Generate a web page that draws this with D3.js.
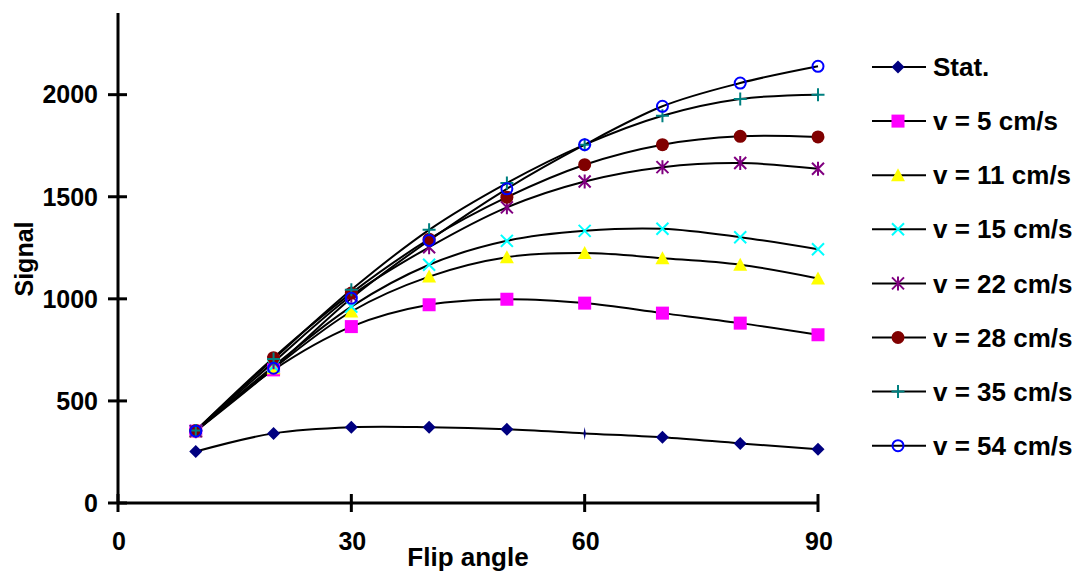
<!DOCTYPE html>
<html>
<head>
<meta charset="utf-8">
<script src="https://cdn.jsdelivr.net/npm/d3@7/dist/d3.min.js"></script>
<style>
  html, body { margin: 0; padding: 0; background: #fff; }
  svg text { font-family: "Liberation Sans", Arial, sans-serif; font-weight: bold; fill: #000; }
</style>
</head>
<body>
<svg id="chart" width="1078" height="574"></svg>
<script>
// Flip angles (degrees)
const angles = [10, 20, 30, 40, 50, 60, 70, 80, 90];

// Signal per flow velocity
const stat = [252, 341, 371, 371, 361, 341, 322, 292, 263];
const v5   = [352, 652, 864, 971, 998, 979, 930, 881, 824];
const v11  = [352, 660, 938, 1109, 1204, 1224, 1199, 1167, 1100];
const v15  = [352, 670, 962, 1167, 1284, 1333, 1343, 1302, 1243];
const v22  = [352, 690, 1015, 1253, 1448, 1575, 1645, 1665, 1637];
const v28  = [355, 712, 1028, 1292, 1498, 1657, 1755, 1796, 1793];
const v35  = [355, 705, 1044, 1338, 1567, 1755, 1897, 1979, 2000];
const v54  = [352, 660, 1003, 1286, 1539, 1755, 1943, 2057, 2139];

const seriesNames = ["Stat.", "v = 5 cm/s", "v = 11 cm/s", "v = 15 cm/s",
                     "v = 22 cm/s", "v = 28 cm/s", "v = 35 cm/s", "v = 54 cm/s"];
const seriesValues = [stat, v5, v11, v15, v22, v28, v35, v54];
const markerKinds = ["diamond", "square", "triangle", "cross", "asterisk", "dot", "plus", "ring"];
const markerColors = ["#000080", "#FF00FF", "#FFFF00", "#00FFFF", "#800080", "#800000", "#008080", "#0000FF"];

// Stat. point at this angle is drawn as a compressed diamond
const statThinAngles = [60];

const xTicks = [0, 30, 60, 90];
const yTicks = [0, 500, 1000, 1500, 2000];

const svg = d3.select("#chart");
const x = d3.scaleLinear().domain([0, 90]).range([118, 818]);
const y = d3.scaleLinear().domain([0, 2400]).range([503, 13]);

// axes
const axisW = 3;
svg.append("line").attr("x1", x(0)).attr("x2", x(0)).attr("y1", y(2400)).attr("y2", y(0))
  .attr("stroke", "#000").attr("stroke-width", axisW);
svg.append("line").attr("x1", x(0)).attr("x2", x(90)).attr("y1", y(0)).attr("y2", y(0))
  .attr("stroke", "#000").attr("stroke-width", axisW);

yTicks.forEach(t => {
  svg.append("line").attr("x1", x(0) - 10).attr("x2", x(0) + 9).attr("y1", y(t)).attr("y2", y(t))
    .attr("stroke", "#000").attr("stroke-width", axisW);
  svg.append("text").attr("x", 98).attr("y", y(t)).attr("dy", "0.35em")
    .attr("text-anchor", "end").attr("font-size", 25).text(t);
});
xTicks.forEach(t => {
  svg.append("line").attr("x1", x(t)).attr("x2", x(t)).attr("y1", y(0) - 9).attr("y2", y(0) + 9)
    .attr("stroke", "#000").attr("stroke-width", axisW);
  svg.append("text").attr("x", x(t) + 1).attr("y", 541).attr("dy", "0.35em")
    .attr("text-anchor", "middle").attr("font-size", 25).text(t);
});

svg.append("text").attr("x", 468).attr("y", 566).attr("text-anchor", "middle")
  .attr("font-size", 26).text("Flip angle");
svg.append("text").attr("transform", "translate(33,259) rotate(-90)")
  .attr("text-anchor", "middle").attr("font-size", 25).text("Signal");

// marker shapes
function drawMarker(g, kind, color, cx, cy, thin) {
  const s = 6.5;
  if (kind === "diamond") {
    const w = thin ? 1.2 : s;
    g.append("path").attr("d", `M${cx},${cy - s}L${cx + w},${cy}L${cx},${cy + s}L${cx - w},${cy}Z`)
      .attr("fill", color);
  } else if (kind === "square") {
    g.append("rect").attr("x", cx - 6.5).attr("y", cy - 6.5).attr("width", 13).attr("height", 13)
      .attr("fill", color);
  } else if (kind === "triangle") {
    g.append("path").attr("d", `M${cx},${cy - 7}L${cx + 7},${cy + 6}L${cx - 7},${cy + 6}Z`)
      .attr("fill", color);
  } else if (kind === "cross") {
    g.append("path").attr("d", `M${cx - 6},${cy - 6}L${cx + 6},${cy + 6}M${cx + 6},${cy - 6}L${cx - 6},${cy + 6}`)
      .attr("stroke", color).attr("stroke-width", 2).attr("fill", "none");
  } else if (kind === "asterisk") {
    g.append("path").attr("d", `M${cx - 6},${cy - 6}L${cx + 6},${cy + 6}M${cx + 6},${cy - 6}L${cx - 6},${cy + 6}M${cx},${cy - 7}L${cx},${cy + 7}`)
      .attr("stroke", color).attr("stroke-width", 2).attr("fill", "none");
  } else if (kind === "dot") {
    g.append("circle").attr("cx", cx).attr("cy", cy).attr("r", 6.5).attr("fill", color);
  } else if (kind === "plus") {
    g.append("path").attr("d", `M${cx - 6.5},${cy}L${cx + 6.5},${cy}M${cx},${cy - 6.5}L${cx},${cy + 6.5}`)
      .attr("stroke", color).attr("stroke-width", 2).attr("fill", "none");
  } else if (kind === "ring") {
    g.append("circle").attr("cx", cx).attr("cy", cy).attr("r", 5.5)
      .attr("fill", "none").attr("stroke", color).attr("stroke-width", 2);
  }
}

const line = d3.line().x(d => x(d[0])).y(d => y(d[1])).curve(d3.curveCardinal.tension(0));

const plot = svg.append("g");
seriesValues.forEach((vals, i) => {
  const pts = angles.map((a, j) => [a, vals[j]]);
  plot.append("path").attr("d", line(pts)).attr("fill", "none")
    .attr("stroke", "#000").attr("stroke-width", 2);
});
seriesValues.forEach((vals, i) => {
  const g = plot.append("g");
  angles.forEach((a, j) => {
    const thin = i === 0 && statThinAngles.includes(a);
    drawMarker(g, markerKinds[i], markerColors[i], x(a), y(vals[j]), thin);
  });
});

// legend
const legend = svg.append("g");
seriesNames.forEach((name, i) => {
  const ly = 67 + i * 54.1;
  legend.append("line").attr("x1", 872).attr("x2", 926).attr("y1", ly).attr("y2", ly)
    .attr("stroke", "#000").attr("stroke-width", 2);
  drawMarker(legend, markerKinds[i], markerColors[i], 898, ly, false);
  legend.append("text").attr("x", 933).attr("y", ly).attr("dy", "0.35em")
    .attr("font-size", 26).text(name);
});
</script>
</body>
</html>
